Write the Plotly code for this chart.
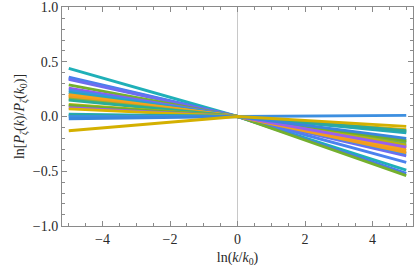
import plotly.graph_objects as go

# x positions where each curve is sampled
x_vals = [-5, 0, 5]

# each curve: value at x=-5, x=0, x=5
curve_colors = [
    "#1FB0B8", "#4A7BEA", "#4B82EE", "#6E6CF0", "#74B02E", "#8C5CF0",
    "#3F8FE8", "#26A7C0", "#F5A21C", "#F8A51A", "#F29C1E", "#8CB03A",
    "#2BAE96", "#B8B410", "#6FAF2A", "#9A60EE", "#D9B300", "#22A9B8",
    "#2EA89A", "#3D8FE0", "#3A86DC", "#D4B000",
]
left_vals = [0.44, 0.36, 0.35, 0.34, 0.29, 0.26, 0.24, 0.22, 0.20, 0.19, 0.18, 0.16,
             0.15, 0.11, 0.10, 0.08, 0.07, 0.02, 0.01, 0.00, -0.02, -0.13]
center_vals = [0.0] * 22
right_vals = [-0.49, -0.52, -0.42, -0.36, -0.54, -0.27, -0.34, -0.24, -0.31, -0.29, -0.33, -0.23,
              -0.14, -0.26, -0.22, -0.28, -0.12, -0.15, -0.13, 0.01, -0.20, -0.09]

x_ticks = [-4, -2, 0, 2, 4]
y_ticks = [-1.0, -0.5, 0.0, 0.5, 1.0]
y_ticklabels = ["\u22121.0", "\u22120.5", "0.0", "0.5", "1.0"]
x_ticklabels = ["\u22124", "\u22122", "0", "2", "4"]

fig = go.Figure()
for c, l, m, r in zip(curve_colors, left_vals, center_vals, right_vals):
    fig.add_trace(go.Scatter(x=x_vals, y=[l, m, r], mode="lines",
                             line=dict(color=c, width=2.9), showlegend=False,
                             hoverinfo="skip"))

font = dict(family="Liberation Serif, Times New Roman, serif", size=14, color="#2a2a2a")
axis_common = dict(showgrid=False, showline=True, linecolor="#8a8a8a", linewidth=1,
                   mirror="allticks", ticks="inside", tickcolor="#8a8a8a", ticklen=5,
                   tickfont=font, automargin=False)

fig.update_layout(
    template="none",
    width=417, height=276,
    margin=dict(l=62, r=4, t=7, b=50, autoexpand=False),
    paper_bgcolor="white", plot_bgcolor="white",
    font=font,
    xaxis=dict(range=[-5.2, 5.2], tickvals=x_ticks, ticktext=x_ticklabels,
               zeroline=True, zerolinecolor="#c8c8c8", zerolinewidth=1.2,
               minor=dict(dtick=0.5, ticks="inside", ticklen=3, tickcolor="#8a8a8a"),
               title=dict(text="ln(<i>k</i>/<i>k</i><sub>0</sub>)", font=font, standoff=6),
               **axis_common),
    yaxis=dict(range=[-1.002, 1.002], tickvals=y_ticks, ticktext=y_ticklabels,
               zeroline=False,
               minor=dict(dtick=0.1, ticks="inside", ticklen=3, tickcolor="#8a8a8a"),
               title=dict(text="ln[<i>P</i><sub><i>\u03b6</i></sub>(<i>k</i>)/<i>P</i><sub><i>\u03b6</i></sub>(<i>k</i><sub>0</sub>)]",
                          font=font, standoff=4),
               **axis_common),
)
fig.write_html("out.html", post_script="document.body.style.margin='0';",
               config={"displayModeBar": False})
